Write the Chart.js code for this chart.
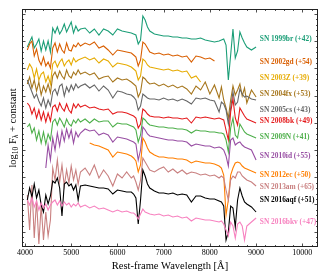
<!DOCTYPE html>
<html>
<head>
<meta charset="utf-8">
<script src="https://cdn.jsdelivr.net/npm/chart.js@4.4.1/dist/chart.umd.min.js"></script>
<style>html,body{margin:0;padding:0;background:#fff}</style>
</head>
<body>
<canvas id="spec" width="336" height="280"></canvas>
<script>
// rest-frame wavelength grid (Angstrom)
var wave = [4000,4050,4100,4150,4200,4250,4300,4350,4400,4450,4500,4550,4600,4650,4700,4750,4800,4850,4900,4950,5000,5050,5100,5150,5200,
  5300,5400,5500,5600,5700,5800,5900,6000,6100,6200,6300,
  6350,6400,6450,6500,6550,6600,6650,6700,
  6800,6900,7000,7100,7200,7300,7400,7500,7600,7700,7800,7900,8000,8100,8200,
  8250,8300,8350,8400,8450,8500,8550,8600,8650,8700,8750,8800,
  8900,9000];
var waveTicks = [4000, 5000, 6000, 7000, 8000, 9000, 10000];

// log10 flux + constant, one array per spectrum
var sn1999br = [null,20.0,20.5,21.0,19.9,20.3,20.8,19.6,20.6,19.7,20.6,19.5,21.9,21.4,22.0,21.3,21.7,22.3,21.5,22.0,22.5,21.4,22.1,21.6,21.8,
  21.9,21.4,21.8,21.2,21.8,21.6,21.2,21.8,21.6,21.5,21.4,
  21.3,21.2,20.3,20.7,23.1,22.7,22.0,21.6,
  21.3,21.2,21.1,21.1,21.0,21.0,20.9,20.9,20.8,20.8,20.9,20.7,20.6,20.5,20.6,
  20.7,20.8,20.2,16.7,19.2,21.8,18.9,19.6,21.5,20.9,20.4,20.0,
  19.7,20.0];
var sn2002gd = [null,19.7,20.3,20.6,19.1,19.8,18.7,18.2,19.0,18.1,18.5,17.9,19.9,20.4,19.5,20.3,19.7,19.4,20.4,19.7,19.6,20.2,20.0,20.4,20.1,
  20.4,20.2,20.5,19.9,20.1,19.7,19.2,19.7,19.6,19.5,19.4,
  19.2,19.0,18.1,18.7,20.5,20.3,19.9,19.5,
  19.3,19.4,19.2,19.3,19.1,19.2,19.0,19.1,18.5,19.1,19.0,18.8,18.9,18.6,null,
  null,null,null,null,null,null,null,null,null,null,null,null,
  null,null];
var sn2003Z = [null,17.7,18.3,17.9,16.9,17.8,16.7,17.3,17.5,16.5,17.1,16.3,18.3,18.6,18.0,18.5,18.8,18.1,18.5,18.7,18.2,18.9,18.5,18.7,18.8,
  19.0,18.7,18.9,18.4,18.8,18.6,18.0,18.4,18.3,18.2,18.0,
  17.8,17.6,16.7,17.1,18.8,18.6,18.2,18.0,
  17.9,17.8,17.7,17.8,17.6,17.7,17.5,17.6,16.9,17.1,16.5,null,null,null,null,
  null,null,null,null,null,null,null,null,null,null,null,null,
  null,null];
var sn2004fx = [null,16.3,17.0,15.9,16.7,15.6,16.5,15.2,16.1,15.5,16.3,15.4,17.1,17.5,16.9,17.6,17.1,16.8,17.7,17.1,16.9,17.5,17.2,17.7,17.3,
  17.5,17.2,17.4,16.8,17.0,17.1,16.5,16.9,16.7,16.8,16.5,
  16.3,16.1,15.0,15.5,17.0,16.8,16.5,16.3,
  16.4,16.1,16.3,16.0,16.2,15.9,16.1,15.8,15.3,16.1,15.7,16.5,15.3,16.2,14.9,
  16.0,14.7,13.9,12.9,14.7,16.1,15.2,15.7,16.3,15.1,15.9,14.4,
  15.7,15.0];
var sn2005cs = [null,16.7,16.1,15.5,14.9,15.3,14.6,14.1,14.9,13.9,14.7,14.1,15.5,15.8,15.2,16.1,16.3,15.1,16.0,15.5,16.2,15.7,16.3,15.9,16.1,
  16.3,15.9,16.2,15.6,16.1,15.7,14.9,15.6,15.5,15.3,15.2,
  15.0,14.7,13.7,14.1,15.3,15.1,14.9,14.8,
  14.8,14.7,14.9,14.7,14.8,14.6,14.8,14.6,14.3,14.9,14.8,14.9,14.7,14.6,13.5,
  14.5,14.3,13.7,12.3,13.9,15.5,14.2,14.5,15.8,15.3,15.0,15.1,
  14.8,14.7];
var sn2008bk = [null,14.4,14.1,13.3,13.9,12.9,13.7,12.7,13.5,12.5,13.4,12.6,14.0,14.2,13.6,14.4,13.9,13.6,14.3,13.7,13.4,14.3,13.9,14.3,14.0,
  14.2,13.9,14.0,13.8,13.7,13.8,13.3,13.5,13.5,13.4,13.2,
  13.1,12.9,11.9,12.3,13.8,13.6,13.3,13.1,
  13.0,13.0,12.9,13.0,12.9,12.9,12.8,12.9,12.4,13.0,12.9,13.0,12.9,12.8,12.9,
  12.8,12.7,11.7,10.7,13.5,14.8,12.9,12.2,13.9,13.5,13.1,12.8,
  12.6,12.4];
var sn2009N = [null,12.0,12.3,11.4,11.9,10.7,11.6,10.4,11.5,10.3,11.3,10.7,12.5,12.8,12.2,12.9,12.5,12.0,12.8,12.3,12.1,12.7,12.4,12.8,12.5,
  12.8,12.4,12.8,12.5,12.6,12.6,12.0,12.4,12.3,12.3,12.1,
  12.0,11.7,10.5,11.2,12.9,12.7,12.4,12.2,
  12.1,12.0,12.0,11.9,11.9,11.8,11.8,11.7,11.4,11.7,11.6,11.6,11.5,11.5,11.4,
  11.4,11.3,10.7,9.5,11.9,12.9,11.2,10.9,12.3,11.9,11.5,11.3,
  11.1,10.9];
var sn2010id = [null,null,null,null,null,null,null,null,null,7.9,10.2,8.7,10.9,9.7,11.4,10.1,11.6,10.6,11.8,10.9,11.7,10.4,11.5,11.0,11.4,
  11.8,11.6,11.7,11.2,11.4,11.2,10.5,11.0,10.9,10.8,10.6,
  10.5,10.3,8.7,9.7,12.0,11.7,11.3,11.1,
  11.0,10.9,10.8,10.7,10.7,10.6,10.6,10.5,10.1,10.3,10.2,10.1,10.1,9.9,10.0,
  9.9,9.7,9.1,8.1,10.7,10.9,10.2,10.4,10.5,10.2,10.0,9.9,
  9.7,8.7];
var sn2012ec = [null,null,null,null,null,null,null,null,null,null,null,null,null,null,null,null,null,null,null,null,null,null,null,null,null,
  null,10.4,10.2,10.1,9.9,9.7,9.0,9.5,9.4,9.3,9.1,
  8.9,8.6,7.5,8.2,10.9,10.5,9.9,9.5,
  9.2,9.0,9.0,8.9,8.9,8.8,8.8,8.7,8.4,8.6,8.5,8.4,8.4,8.3,8.1,
  7.9,7.2,3.2,4.7,7.2,7.9,8.4,8.5,8.4,8.1,7.9,7.8,
  7.6,7.4];
var sn2013am = [null,5.2,1.7,6.2,0.9,4.7,0.3,4.2,0.7,3.5,1.1,2.7,7.9,6.7,8.7,6.5,8.2,6.1,7.7,6.4,8.1,6.7,7.7,6.3,7.5,
  7.9,7.2,8.2,6.9,7.7,7.1,6.1,7.3,6.9,7.5,6.9,
  7.1,6.5,5.7,6.7,8.9,8.5,8.1,7.7,
  7.5,7.8,8.0,7.5,7.8,7.4,7.7,7.3,7.5,7.4,7.2,7.3,7.1,7.2,6.9,
  7.1,6.9,5.7,4.7,6.7,7.1,6.9,7.5,7.5,7.1,6.9,6.7,
  6.5,6.1];
var sn2016aqf = [null,4.7,5.9,5.0,6.3,4.9,5.7,4.2,3.5,5.2,4.3,5.1,6.6,6.4,6.9,5.9,3.1,6.3,6.5,6.1,6.3,5.7,6.2,4.7,6.1,
  6.2,6.1,6.0,5.9,5.9,5.8,5.3,5.7,5.6,5.5,5.5,
  5.3,4.9,2.3,4.7,7.7,7.1,6.3,5.9,
  5.6,5.4,5.4,5.3,5.4,5.2,5.3,5.2,4.5,5.1,5.1,4.9,4.8,4.8,4.6,
  4.5,4.1,0.7,1.5,4.1,3.9,2.0,4.7,5.9,5.1,4.5,4.3,
  4.0,3.5];
var sn2016bkv = [null,4.7,4.2,4.9,4.0,4.6,3.7,4.4,3.9,4.3,3.7,4.2,4.5,4.7,4.2,4.6,4.1,4.5,4.2,4.4,4.0,4.3,4.1,4.4,4.0,
  4.2,3.9,4.1,3.8,3.9,3.7,3.5,3.7,3.5,3.6,3.4,
  3.4,3.2,2.8,3.3,3.8,3.5,3.4,3.3,
  3.2,3.3,3.1,3.2,3.0,3.1,2.9,3.0,2.6,2.9,2.8,2.7,2.7,2.6,2.5,
  2.6,2.3,1.7,1.1,2.5,2.1,0.9,2.3,2.5,2.1,0.7,2.1,
  2.5,2.9];

var spectra = [sn1999br, sn2002gd, sn2003Z, sn2004fx, sn2005cs, sn2008bk, sn2009N, sn2010id, sn2012ec, sn2013am, sn2016aqf, sn2016bkv];
var names = ["SN 1999br (+42)", "SN 2002gd (+54)", "SN 2003Z (+39)", "SN 2004fx (+53)", "SN 2005cs (+43)", "SN 2008bk (+49)",
  "SN 2009N (+41)", "SN 2010id (+55)", "SN 2012ec (+50)", "SN 2013am (+65)", "SN 2016aqf (+51)", "SN 2016bkv (+47)"];
var colors = ["#1b9e77", "#d95f02", "#e6ab02", "#a6761d", "#666666", "#e41a1c",
  "#4daf4a", "#984ea3", "#ff7f00", "#c98080", "#000000", "#f781bf"];
// where the name of each spectrum sits (wavelength, level)
var labelWave = 9080;
var labelLevel = [20.8, 18.5, 16.9, 15.3, 13.7, 12.6, 11.0, 9.1, 7.2, 6.0, 4.7, 2.5];

var serif = "'Liberation Serif', 'Times New Roman', serif";

var sideText = {
  id: "sideText",
  afterDatasetsDraw: function (chart) {
    var ctx = chart.ctx, x = chart.scales.x, y = chart.scales.y;
    ctx.save();
    ctx.font = "bold 7.4px " + serif;
    ctx.textAlign = "left";
    ctx.textBaseline = "middle";
    names.forEach(function (n, i) {
      ctx.fillStyle = colors[i];
      ctx.fillText(n, x.getPixelForValue(labelWave), y.getPixelForValue(labelLevel[i]));
    });
    ctx.restore();
  }
};

var frameTicks = {
  id: "frameTicks",
  afterDraw: function (chart) {
    var ctx = chart.ctx, a = chart.chartArea, x = chart.scales.x, y = chart.scales.y;
    ctx.save();
    ctx.strokeStyle = "#222";
    ctx.lineWidth = 1;
    ctx.strokeRect(Math.round(a.left) + 0.5, Math.round(a.top) + 0.5, Math.round(a.right - a.left) - 1, Math.round(a.bottom - a.top) - 1);
    ctx.lineWidth = 0.8;
    ctx.beginPath();
    for (var w = Math.ceil(x.min / 200) * 200; w <= x.max; w += 200) {
      var px = Math.round(x.getPixelForValue(w)) + 0.5;
      var len = w % 1000 === 0 ? 3.5 : 2;
      ctx.moveTo(px, a.bottom); ctx.lineTo(px, a.bottom - len);
      ctx.moveTo(px, a.top); ctx.lineTo(px, a.top + len);
    }
    for (var k = -2; k <= 45; k++) {
      var v = 1.54 + k * 0.544;
      if (v < y.min || v > y.max) continue;
      var py = Math.round(y.getPixelForValue(v)) + 0.5;
      var l = k % 5 === 0 ? 3.5 : 2;
      ctx.moveTo(a.left, py); ctx.lineTo(a.left + l, py);
      ctx.moveTo(a.right, py); ctx.lineTo(a.right - l, py);
    }
    ctx.stroke();

    // y axis title with subscripts
    ctx.translate(12, (a.top + a.bottom) / 2);
    ctx.rotate(-Math.PI / 2);
    ctx.fillStyle = "#000";
    ctx.textBaseline = "alphabetic";
    var parts = [["log", 10.5, 0], ["10", 7.5, 2], [" F", 10.5, 0], ["\u03bb", 7.5, 2], [" + constant", 10.5, 0]];
    var total = 0;
    parts.forEach(function (p) { ctx.font = p[1] + "px " + serif; total += ctx.measureText(p[0]).width; });
    var cx = -total / 2;
    parts.forEach(function (p) {
      ctx.font = p[1] + "px " + serif;
      ctx.fillText(p[0], cx, 3.5 + p[2]);
      cx += ctx.measureText(p[0]).width;
    });
    ctx.restore();
  }
};

var obj = document.getElementById("spec");
var chart = new Chart(obj, {
  type: "line",
  data: {
    datasets: spectra.map(function (s, i) {
      return {
        label: names[i],
        data: wave.map(function (w, j) { return { x: w, y: s[j] }; }),
        borderColor: colors[i],
        backgroundColor: colors[i],
        borderWidth: 1.1,
        pointRadius: 0,
        fill: false,
        tension: 0,
        order: spectra.length - i
      };
    })
  },
  options: {
    responsive: false,
    animation: false,
    devicePixelRatio: 1,
    layout: { padding: { top: 9, right: 18, left: 0, bottom: 0 } },
    plugins: { legend: { display: false }, tooltip: { enabled: false } },
    scales: {
      x: {
        type: "linear",
        min: 3935,
        max: 10340,
        afterFit: function (s) { s.height = 33; },
        afterBuildTicks: function (s) { s.ticks = waveTicks.map(function (v) { return { value: v }; }); },
        grid: { display: false, drawTicks: false },
        border: { display: false },
        ticks: {
          maxRotation: 0,
          autoSkip: false,
          padding: 1,
          color: "#000",
          font: { family: serif, size: 8 },
          callback: function (v) { return String(v); }
        },
        title: {
          display: true,
          text: "Rest-frame Wavelength [\u00c5]",
          color: "#000",
          font: { family: serif, size: 10.5 },
          padding: { top: 0, bottom: 7.5 }
        }
      },
      y: {
        type: "linear",
        min: 0,
        max: 23.8,
        afterFit: function (s) { s.width = 22; },
        grid: { display: false, drawTicks: false },
        border: { display: false },
        ticks: { display: false }
      }
    }
  },
  plugins: [sideText, frameTicks]
});
</script>
</body>
</html>
